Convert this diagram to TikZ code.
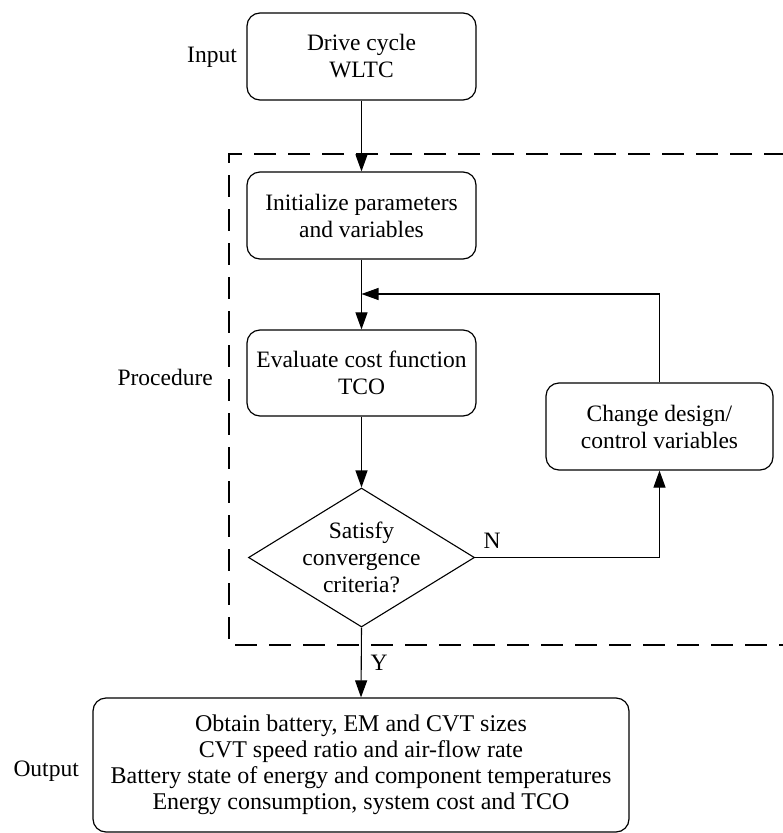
\documentclass[tikz,border=0pt]{standalone}
\usepackage{fontspec}
\setmainfont{Liberation Serif}
\usetikzlibrary{arrows.meta,shapes.geometric}

\begin{document}
\begin{tikzpicture}[x=1pt,y=-1pt,
  font=\fontsize{23.5}{27}\selectfont,
  stepbox/.style={draw, line width=1.2pt, rounded corners=13pt, align=center,
    inner sep=0pt, minimum width=229pt, minimum height=87pt},
  decision/.style={draw, diamond, line width=1.1pt, inner sep=0pt,
    minimum width=226pt, minimum height=139pt},
  flow/.style={line width=1.1pt, -{Triangle[length=17pt,width=12pt]}},
  frame/.style={line width=1.3pt, dash pattern=on 22pt off 12pt},
  sidelabel/.style={anchor=east, inner sep=0pt}
]
\useasboundingbox (0,0) rectangle (783,833);
\clip (0,0) rectangle (783,833);

% procedure frame (runs past the right edge)
\draw[frame] (820,154) -- (229,154) -- (229,645) -- (820,645);

% blocks
\node[stepbox] (cycle) at (361.5,56.5) {Drive cycle\\WLTC};
\node[stepbox] (init) at (361.5,215.5) {Initialize parameters\\and variables};
\node[stepbox, minimum height=86pt] (eval) at (361.5,373) {Evaluate cost function\\TCO};
\node[stepbox, minimum width=227pt] (change) at (659.5,426.5) {Change design/\\control variables};
\node[decision] (dec) at (361.5,557.5) {};
\node[align=center, inner sep=0pt] (dectext) at (dec.center) {Satisfy\\convergence\\criteria?};
\node[stepbox, minimum width=536pt, minimum height=134pt,
      font=\fontsize{24}{26}\selectfont] (out) at (361,765)
  {Obtain battery, EM and CVT sizes\\
   CVT speed ratio and air-flow rate\\
   Battery state of energy and component temperatures\\
   Energy consumption, system cost and TCO};

% side labels
\node[sidelabel] (lin) at (237,57) {Input};
\node[sidelabel] (lproc) at (213,377) {Procedure};
\node[sidelabel] (lout) at (79,771) {Output};

% connectors
\coordinate (join) at (361.5,294);
\draw[flow] (cycle.south) -- (init.north);
\draw[flow] (init.south) -- (eval.north);
\draw[flow] (change.north) |- (join);
\draw[flow] (eval.south) -- (dec.north);
\draw[flow] (dec.east) -| (change.south);
\draw[flow] (dec.south) -- (out.north);

% branch labels
\node[inner sep=0pt] (lno) at (492,541) {N};
\node[inner sep=0pt] (lyes) at (379,663) {Y};
\end{tikzpicture}
\end{document}
